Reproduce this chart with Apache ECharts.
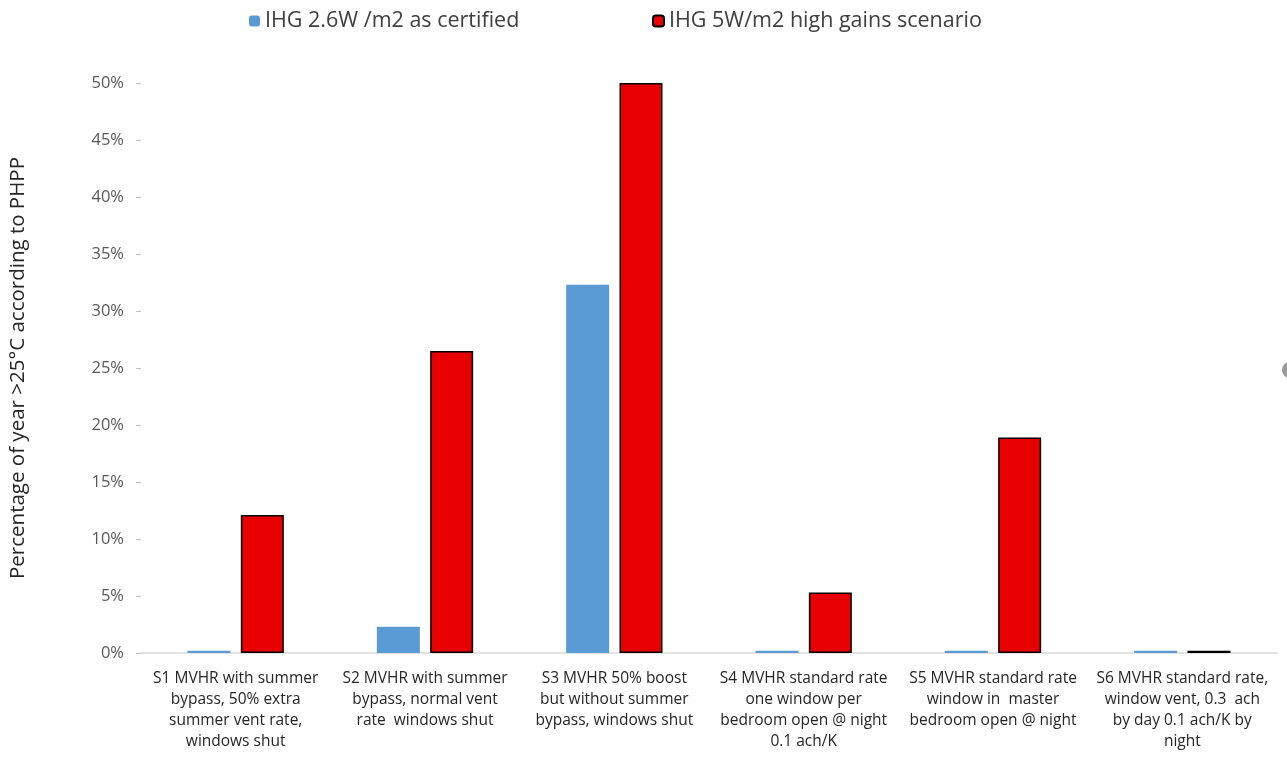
<!DOCTYPE html>
<html><head><meta charset="utf-8">
<script src="https://cdn.jsdelivr.net/npm/echarts@6/dist/echarts.min.js"></script>
<style>html,body{margin:0;padding:0;background:#fff}#c{width:1287px;height:758px}</style>
</head><body><div id="c"></div>
<script>
const categories = [
  "S1 MVHR with summer\nbypass, 50% extra\nsummer vent rate,\nwindows shut",
  "S2 MVHR with summer\nbypass, normal vent\nrate  windows shut",
  "S3 MVHR 50% boost\nbut without summer\nbypass, windows shut",
  "S4 MVHR standard rate\none window per\nbedroom open @ night\n0.1 ach/K",
  "S5 MVHR standard rate\nwindow in  master\nbedroom open @ night",
  "S6 MVHR standard rate,\nwindow vent, 0.3  ach\nby day 0.1 ach/K by\nnight"
];
const seriesNames = ["IHG 2.6W /m2 as certified", "IHG 5W/m2 high gains scenario"];
const certified = [0.2, 2.3, 32.3, 0.2, 0.2, 0.2];
const highGains = [12.1, 26.5, 50.0, 5.3, 18.9, 0.2];
const yTitle = "Percentage of year >25°C according to PHPP";

const font = "'Open Sans', 'Noto Sans', sans-serif";
const legendText = { fontFamily: font, fontSize: 21.5, color: '#404040' };
const chart = echarts.init(document.getElementById('c'));
chart.setOption({
  animation: false,
  legend: [
    { top: 5, left: 244, itemWidth: 11, itemHeight: 11, textStyle: legendText, data: [seriesNames[0]] },
    { top: 5, left: 647, itemWidth: 11, itemHeight: 11, textStyle: legendText, data: [seriesNames[1]] }
  ],
  grid: { left: 135, right: 10, top: 83, bottom: 105 },
  xAxis: {
    type: 'category', data: categories,
    axisLine: { lineStyle: { color: '#d9d9d9', width: 1.5 } },
    axisTick: { show: false },
    axisLabel: { interval: 0, fontFamily: font, fontSize: 15.5, color: '#262626', lineHeight: 21, margin: 15 }
  },
  yAxis: {
    type: 'value', min: 0, max: 50, interval: 5,
    name: yTitle, nameLocation: 'middle', nameGap: 112, nameRotate: 90,
    nameTextStyle: { fontFamily: font, fontSize: 20.5, color: '#262626' },
    axisLine: { show: false },
    axisTick: { show: true, length: 5, lineStyle: { color: '#bfbfbf' } },
    splitLine: { show: false },
    axisLabel: { formatter: '{value}%', fontFamily: font, fontSize: 16.5, color: '#595959', margin: 17 }
  },
  series: [
    { name: seriesNames[0], type: 'bar', data: certified, barWidth: 43, barGap: '24%',
      itemStyle: { color: '#5b9bd5' } },
    { name: seriesNames[1], type: 'bar', data: highGains, barWidth: 43,
      itemStyle: { color: '#e60000', borderColor: '#000', borderWidth: 1.5 } }
  ],
  graphic: [{ type: 'circle', shape: { cx: 1290, cy: 370, r: 8 }, style: { fill: '#9a9a9a' }, silent: true }]
});
</script></body></html>
